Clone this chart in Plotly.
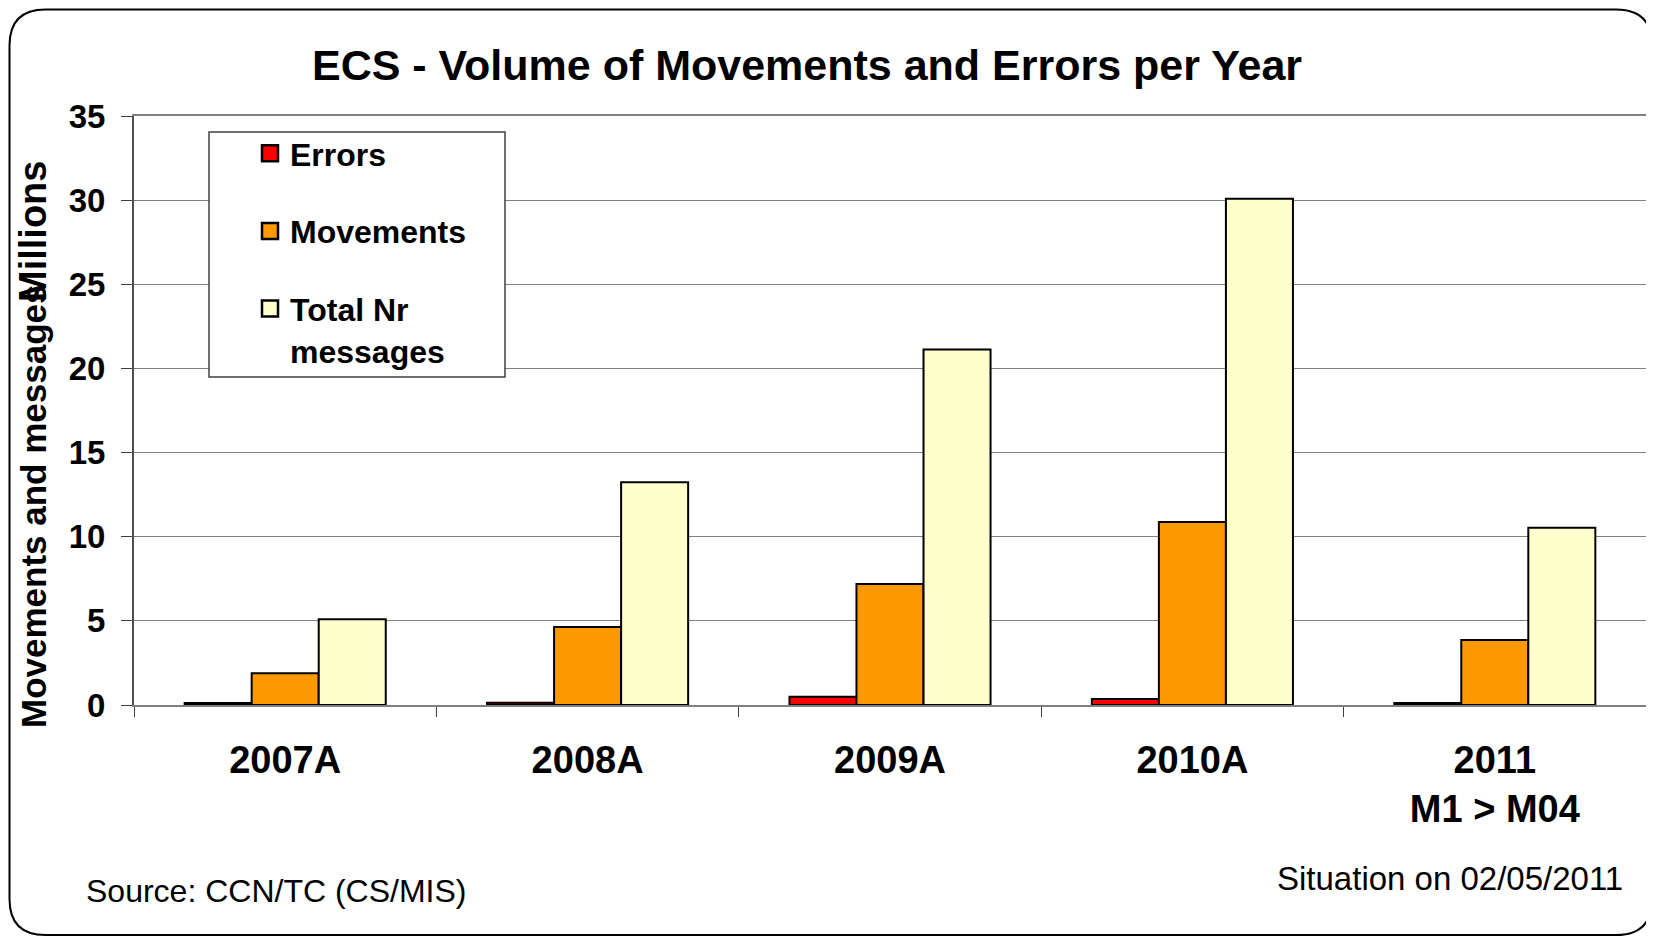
import plotly.graph_objects as go

categories = ["2007A", "2008A", "2009A", "2010A", "2011<br>M1 > M04"]
errors = [0.12, 0.13, 0.49, 0.36, 0.12]
movements = [1.88, 4.63, 7.19, 10.88, 3.86]
total_msgs = [5.09, 13.24, 21.12, 30.08, 10.53]
y_ticks = [0, 5, 10, 15, 20, 25, 30, 35]

OFF = 8  # page body margin
W, H = 1654 - OFF, 937 - OFF
L, R, T, B = 134 - OFF, 8, 116 - OFF, 232
PW, PH = W - L - R, H - T - B

def px(x):  # x in reference page pixels -> paper
    return (x - OFF - L) / PW

def py(y):
    return (H - B - (y - OFF)) / PH

def fx(x):  # x in figure pixels -> paper
    return (x - L) / PW

def fy(y):
    return (H - B - y) / PH

FONT = "Liberation Sans, Arial, sans-serif"
colors = ["#FF0000", "#FF9900", "#FFFFCC"]
names = ["Errors", "Movements", "Total Nr<br>messages"]
series = [errors, movements, total_msgs]

fig = go.Figure()
for nm, vals, c in zip(names, series, colors):
    fig.add_trace(go.Bar(x=categories, y=vals, name=nm, marker=dict(color=c, line=dict(color="black", width=2)),
                         showlegend=False))
for i, (nm, c) in enumerate(zip(names, colors)):
    fig.add_trace(go.Scatter(x=[None], y=[None], mode="markers", name=nm, legendgroup=str(i),
                             marker=dict(symbol="square", size=24, color=c, line=dict(color="black", width=2.5))))

# outer rounded frame (figure pixels)
x0, x1, y0, y1, r = 1.5, W - 2, 1.5, H - 2, 36
pts = (f"M {fx(x0+r)},{fy(y0)} L {fx(x1-r)},{fy(y0)} Q {fx(x1)},{fy(y0)} {fx(x1)},{fy(y0+r)} "
       f"L {fx(x1)},{fy(y1-r)} Q {fx(x1)},{fy(y1)} {fx(x1-r)},{fy(y1)} "
       f"L {fx(x0+r)},{fy(y1)} Q {fx(x0)},{fy(y1)} {fx(x0)},{fy(y1-r)} "
       f"L {fx(x0)},{fy(y0+r)} Q {fx(x0)},{fy(y0)} {fx(x0+r)},{fy(y0)} Z")
shapes = [
    dict(type="path", xref="paper", yref="paper", path=pts, line=dict(color="black", width=2), layer="below"),
    dict(type="rect", xref="paper", yref="paper", x0=px(209), x1=px(505), y0=py(377), y1=py(132),
         fillcolor="white", line=dict(color="#404040", width=1.5), layer="above"),
]

annotations = [
    dict(text="Movements and messages", xref="paper", yref="paper", x=px(33), y=py(506), textangle=-90,
         showarrow=False, font=dict(family=FONT, size=35, color="black", weight="bold"), xanchor="center", yanchor="middle"),
    dict(text="Millions", xref="paper", yref="paper", x=px(33), y=py(232), textangle=-90,
         showarrow=False, font=dict(family=FONT, size=38, color="black", weight="bold"), xanchor="center", yanchor="middle"),
    dict(text="Source: CCN/TC (CS/MIS)", xref="paper", yref="paper", x=px(84), y=py(891), xanchor="left", yanchor="middle",
         showarrow=False, font=dict(family=FONT, size=32, color="black")),
    dict(text="Situation on 02/05/2011", xref="paper", yref="paper", x=px(1625), y=py(879), xanchor="right", yanchor="middle",
         showarrow=False, font=dict(family=FONT, size=33, color="black")),
]

fig.update_layout(
    width=W, height=H,
    margin=dict(l=L, r=R, t=T, b=B, autoexpand=False),
    paper_bgcolor="white", plot_bgcolor="white",
    barmode="group", bargap=0.335, bargroupgap=0,
    title=dict(text="<b>ECS - Volume of Movements and Errors per Year</b>", x=(807 - OFF) / W, xanchor="center",
               y=1 - (65 - OFF) / H, yanchor="middle", font=dict(family=FONT, size=43, color="black")),
    showlegend=True,
    legend=dict(x=px(250), y=py(126), xanchor="left", yanchor="top", bgcolor="rgba(0,0,0,0)",
                borderwidth=0, traceorder="grouped", tracegroupgap=33, valign="top",
                font=dict(family=FONT, size=32, color="black", weight="bold")),
    xaxis=dict(type="category", showgrid=False, tickson="boundaries", ticks="outside", ticklen=10,
               tickcolor="#404040", showline=True, linecolor="#808080", linewidth=2, mirror=True,
               tickfont=dict(family=FONT, size=38, color="black", weight="bold"), ticklabelstandoff=20),
    yaxis=dict(range=[0, 35], tickvals=y_ticks, showgrid=True, gridcolor="#808080", gridwidth=1,
               ticks="outside", ticklen=11, tickcolor="#404040", showline=True, linecolor="#505050",
               linewidth=2, mirror=True, zeroline=False, ticklabelstandoff=9,
               tickfont=dict(family=FONT, size=33, color="black", weight="bold")),
    shapes=shapes, annotations=annotations,
)

fig.write_html("out.html")
